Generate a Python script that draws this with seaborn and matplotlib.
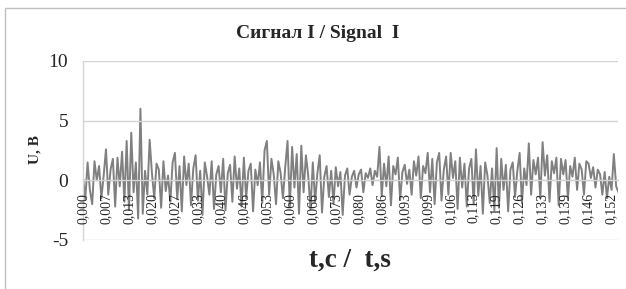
import numpy as np
import pandas as pd
import matplotlib
matplotlib.use("Agg")
import matplotlib.pyplot as plt
import matplotlib.patches as mpatches
import seaborn as sns

# ---------------- data ----------------
dt = 0.000663  # sampling step, s
u_values = [
    0.3, -1.6, 1.5, -0.8, -2.0, 1.6, 0.0, 1.2, -1.5, 0.4,
    2.6, -1.2, 0.9, 1.8, -2.2, 1.9, -0.5, 2.4, -1.8, 3.3,
    -2.5, 4.0, -1.0, 1.5, -3.2, 6.0, -2.8, 0.8, -1.2, 3.4,
    0.6, -1.5, 1.4, 0.9, -2.3, 1.6, -0.9, 0.4, -1.8, 1.5,
    2.3, -1.6, 1.2, -2.6, 2.0, -0.4, 1.4, -2.1, 1.0, 2.1,
    -1.7, 0.8, -2.9, 1.5, 0.3, -1.2, 1.6, -2.4, 0.5, 1.2,
    -1.0, 1.8, -2.5, 0.6, 1.3, -1.8, 2.0, -0.7, 1.0, -2.2,
    1.9, -1.5, 0.8, 1.4, -2.6, 0.9, -0.4, 1.5, -1.9, 2.5,
    3.3, -1.2, 1.8, 0.5, -2.0, 1.6, 0.6, -1.5, 1.1, 3.3,
    -2.2, 2.8, -0.6, 2.2, -2.8, 2.9, -1.0, 2.1, 0.4, -2.4,
    1.5, -1.8, 0.6, 2.1, -2.7, 0.3, 1.2, -1.4, 0.8, -2.0,
    1.1, -0.5, 0.7, -2.9, 0.4, 1.0, -1.2, 0.3, 0.8, -0.6,
    0.5, 0.9, -1.0, 0.6, 0.2, 1.0, -0.4, 0.8, 0.3, 2.8,
    -1.3, 1.4, -0.5, 2.0, -2.1, 1.2, 0.5, 1.9, -1.6, 0.7,
    1.3, -0.3, 0.9, -1.2, 1.6, 0.4, 2.0, -1.5, 1.2, 0.6,
    2.3, -1.0, 1.8, -2.0, 1.5, 2.3, -1.7, 0.9, 2.0, -1.2,
    2.3, 0.2, 1.6, -2.4, 1.9, -0.6, 1.4, -2.2, 1.0, 1.8,
    -2.0, 2.6, -1.3, 1.2, -2.8, 1.5, 0.4, -1.9, 1.0, -2.5,
    2.7, -2.3, 1.8, -0.8, 1.3, -2.6, 0.9, 1.5, -1.4, 0.8,
    2.3, -1.9, 1.0, -0.4, 3.1, -1.2, 1.7, 0.5, 1.9, -1.5,
    3.2, 0.4, 2.1, -1.8, 1.6, 0.6, 1.9, -2.1, 1.8, 0.5,
    1.7, -1.6, 1.2, 0.3, 1.9, -0.8, 1.4, 0.9, -1.2, 1.6,
    1.4, 0.2, 1.1, -0.6, 0.9, 0.5, -1.2, 0.7, -1.5, 0.3,
    -0.8, 2.2, -0.5, -1.0,
]
tick_labels = ["0,000", "0,007", "0,013", "0,020", "0,027", "0,033", "0,040",
               "0,046", "0,053", "0,060", "0,066", "0,073", "0,080", "0,086",
               "0,093", "0,099", "0,106", "0,113", "0,119", "0,126", "0,133",
               "0,139", "0,146", "0,152"]
y_ticks = [-5, 0, 5, 10]
title = "Сигнал I / Signal  I"
x_label = "t,c /  t,s"
y_label = "U, B"

t_values = np.arange(len(u_values)) * dt
df = pd.DataFrame({"t": t_values, "u": u_values})

# ---------------- style ----------------
sns.set_style("white")
plt.rcParams["font.family"] = ["Liberation Serif", "DejaVu Serif"]

W, H = 626, 289
fig = plt.figure(figsize=(W / 100, H / 100), dpi=100)
ax = fig.add_axes([83 / W, 1 - 240 / H, (618 - 83) / W, (240 - 61) / H])

grid_c = "#d4d4d4"
sns.lineplot(data=df, x="t", y="u", ax=ax, color="#808080", lw=1.4, zorder=2)
ax.set_axisbelow(False)

ax.set_ylim(-5, 10)
ax.set_xlim(0, 0.15435)
ax.set_yticks(y_ticks)
ax.set_yticklabels([str(v) for v in y_ticks], fontsize=14)
ax.set_xticks(t_values[::10][:len(tick_labels)])
ax.set_xticklabels(tick_labels, fontsize=14)

ax.grid(axis="y", color=grid_c, lw=1.0)
ax.grid(axis="x", visible=False)
for gl in ax.get_ygridlines():
    gl.set_zorder(1)
for s in ["top", "right"]:
    ax.spines[s].set_visible(False)
ax.spines["left"].set_color(grid_c)
ax.spines["left"].set_linewidth(1.0)
ax.spines["bottom"].set_position(("data", 0))
ax.spines["bottom"].set_color(grid_c)
ax.spines["bottom"].set_linewidth(1.0)
ax.spines["bottom"].set_zorder(1)
ax.tick_params(axis="y", direction="out", length=3.6, width=1.0, color=grid_c, pad=7)
ax.tick_params(axis="x", length=0, pad=9.0, labelrotation=90)
for lab in ax.get_xticklabels():
    lab.set_rotation(90)
    lab.set_va("top")
    lab.set_ha("center")
ax.set_xlabel("")
ax.set_ylabel("")

fig.text(318 / W, 1 - 33 / H, title, ha="center", va="center",
         fontsize=14, fontweight="bold")
fig.text(350 / W, 1 - 260 / H, x_label, ha="center", va="center",
         fontsize=19.5, fontweight="bold")
fig.text(35 / W, 1 - 150 / H, y_label, ha="center", va="center",
         rotation=90, fontsize=11, fontweight="bold")

fig.patches.append(mpatches.Rectangle((5 / W, -0.1), 2, 1 - 8 / H + 0.1,
                                      transform=fig.transFigure, fill=False,
                                      ec="#c0c0c0", lw=1.0))

fig.savefig("out.png", dpi=100)
